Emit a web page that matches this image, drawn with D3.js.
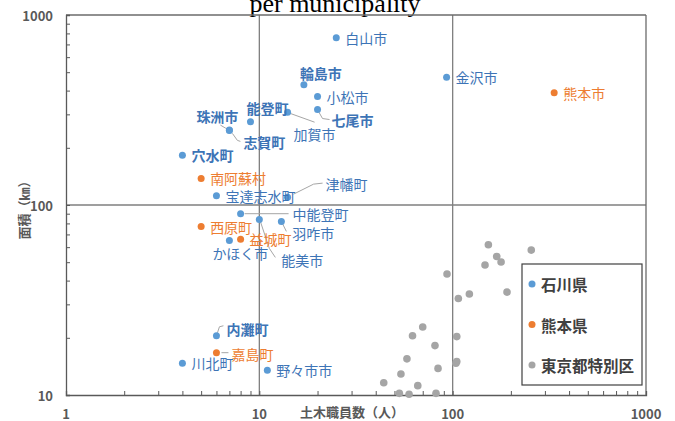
<!DOCTYPE html>
<html><head><meta charset="utf-8">
<script src="https://cdn.jsdelivr.net/npm/d3@7"></script>
<style>
html,body{margin:0;padding:0;background:#fff;}
svg{display:block;}
text{font-family:"Noto Sans CJK JP","Noto Sans",sans-serif;}
</style>
</head><body>
<svg id="c" width="675" height="421"></svg>
<script>
// ---- data ----
const ishikawaNames = ["白山市","輪島市","小松市","七尾市","加賀市","能登町","珠洲市","志賀町","穴水町","宝達志水町","津幡町","中能登町","能美市","羽咋市","かほく市","内灘町","川北町","野々市市","金沢市"];
const ishikawaStaff = [25, 17, 20, 20, 14, 9, 7, 7, 4, 6, 14, 8, 10, 13, 7, 6, 4, 11, 93];
const ishikawaArea  = [760, 430, 372, 318, 308, 274, 248, 247, 183, 112, 110, 90, 84, 82, 65, 20.5, 14.7, 13.5, 470];

const kumamotoNames = ["熊本市","南阿蘇村","西原町","益城町","嘉島町"];
const kumamotoStaff = [335, 5, 5, 8, 6];
const kumamotoArea  = [390, 138, 77, 66, 16.7];

const tokyoStaff = [153, 255, 169, 178, 147, 93.5, 191, 122, 107, 70, 62, 105, 81, 58, 105, 104, 84, 54, 44, 66, 53, 59.5, 82];
const tokyoArea  = [61.8, 57.9, 53.6, 50.1, 48.3, 43.3, 34.8, 34.0, 32.2, 22.8, 20.5, 20.3, 18.2, 15.5, 15.0, 14.7, 13.8, 12.9, 11.6, 11.2, 10.2, 10.1, 10.2];

const seriesNames = ["石川県","熊本県","東京都特別区"];
const xTicks = [1, 10, 100, 1000];
const yTicks = [10, 100, 1000];
const xTitle = "土木職員数（人）";
const yTitle = "面積（㎞）";
const titleText = "per municipality";

// ---- layout / style ----
const colors = {"石川県":"#5B9BD5","熊本県":"#ED7D31","東京都特別区":"#A5A5A5"};
const labelColors = {"石川県":"#3D74B6","熊本県":"#ED7D31"};
const labelLayout = {
  "白山市":{dx:9,dy:0},
  "輪島市":{dx:-4,dy:-12,bold:true},
  "小松市":{dx:9,dy:0},
  "七尾市":{dx:14,dy:10,bold:true,leader:[[1,2],[5,9],[12,10]]},
  "加賀市":{dx:6,dy:22,leader:[[2,1],[27,10]]},
  "能登町":{dx:-4,dy:-14,bold:true},
  "珠洲市":{dx:-33,dy:-14,bold:true,leader:[[-9,-5],[-4,-2],[-1,-1]]},
  "志賀町":{dx:14,dy:12,bold:true,leader:[[3,3],[8,10],[11,11]]},
  "穴水町":{dx:9,dy:0,bold:true},
  "宝達志水町":{dx:9,dy:0},
  "津幡町":{dx:38,dy:-13,leader:[[6,-3],[26,-13],[35,-14]]},
  "中能登町":{dx:52,dy:0,leader:[[4,0],[48,0]]},
  "能美市":{dx:22,dy:41,leader:[[1,2],[10,29],[16,38]]},
  "羽咋市":{dx:11,dy:12,leader:[[1,2],[5,10]]},
  "かほく市":{dx:-17,dy:12},
  "内灘町":{dx:10,dy:-7,bold:true,leader:[[1,-3],[3,-9],[7,-10]]},
  "川北町":{dx:9,dy:0},
  "野々市市":{dx:9,dy:0},
  "金沢市":{dx:9,dy:0},
  "熊本市":{dx:9,dy:0},
  "南阿蘇村":{dx:9,dy:0},
  "西原町":{dx:9,dy:0},
  "益城町":{dx:9,dy:0},
  "嘉島町":{dx:15,dy:1,leader:[[5,0],[12,0]]}
};

const L = 66, R = 646, T = 15, B = 395;
const svg = d3.select("#c");
const x = d3.scaleLog().domain([1,1000]).range([L,R]);
const y = d3.scaleLog().domain([10,1000]).range([B,T]);

// title (second line visible)
svg.append("text").attr("x",335).attr("y",12).attr("text-anchor","middle")
  .style("font-family","'Liberation Serif','Times New Roman',serif").style("font-size","26px").attr("fill","#000")
  .text(titleText);

// grid lines at major decades
const g = svg.append("g");
g.selectAll("line.vx").data(xTicks.slice(1,-1)).enter().append("line")
  .attr("x1",d=>x(d)).attr("x2",d=>x(d)).attr("y1",T).attr("y2",B)
  .attr("stroke","#7F7F7F").attr("stroke-width",1.3);
g.selectAll("line.hy").data(yTicks.slice(1,-1)).enter().append("line")
  .attr("x1",L).attr("x2",R).attr("y1",d=>y(d)).attr("y2",d=>y(d))
  .attr("stroke","#7F7F7F").attr("stroke-width",1.3);
// top & right border
g.append("line").attr("x1",L).attr("x2",R).attr("y1",T).attr("y2",T).attr("stroke","#6b6b6b").attr("stroke-width",1.3);
g.append("line").attr("x1",R).attr("x2",R).attr("y1",T).attr("y2",B).attr("stroke","#6b6b6b").attr("stroke-width",1.3);

// axes with inward minor ticks
const xAxis = d3.axisBottom(x).tickValues(x.ticks()).tickSize(-4).tickFormat("");
const yAxis = d3.axisLeft(y).tickValues(y.ticks()).tickSize(-4).tickFormat("");
const xa = svg.append("g").attr("transform",`translate(0,${B})`).call(xAxis);
const ya = svg.append("g").attr("transform",`translate(${L},0)`).call(yAxis);
[xa,ya].forEach(a=>{
  a.select(".domain").attr("stroke","#595959").attr("stroke-width",1.3);
  a.selectAll(".tick line").attr("stroke","#595959");
});

// tick labels
svg.selectAll("text.xt").data(xTicks).enter().append("text")
  .attr("x",d=>x(d)).attr("y",413).attr("text-anchor","middle").attr("dominant-baseline","central")
  .attr("fill","#595959").style("font-size","13px").style("font-weight","bold").text(d=>d);
svg.selectAll("text.yt").data(yTicks).enter().append("text")
  .attr("x",53).attr("y",d=>y(d)).attr("text-anchor","end").attr("dominant-baseline","central")
  .attr("fill","#595959").style("font-size","13px").style("font-weight","bold").text(d=>d);

// axis titles
svg.append("text").attr("x",352).attr("y",411).attr("text-anchor","middle").attr("dominant-baseline","central")
  .attr("fill","#595959").style("font-size","13px").style("font-weight","bold").text(xTitle);
svg.append("text").attr("transform","translate(23,207) rotate(-90)").attr("text-anchor","middle").attr("dominant-baseline","central")
  .attr("fill","#595959").style("font-size","13px").style("font-weight","bold").text(yTitle);

// build point sets
const tokyo = tokyoStaff.map((s,i)=>({s, a:tokyoArea[i], ser:"東京都特別区"}));
const ishikawa = ishikawaNames.map((n,i)=>({n, s:ishikawaStaff[i], a:ishikawaArea[i], ser:"石川県"}));
const kumamoto = kumamotoNames.map((n,i)=>({n, s:kumamotoStaff[i], a:kumamotoArea[i], ser:"熊本県"}));
const named = ishikawa.concat(kumamoto);

// leader lines
const lineGen = d3.line();
named.forEach(d=>{
  const lay = labelLayout[d.n];
  if (lay && lay.leader) {
    const px = x(d.s), py = y(d.a);
    svg.append("path").attr("d", lineGen(lay.leader.map(p=>[px+p[0],py+p[1]])))
      .attr("fill","none").attr("stroke","#A6A6A6").attr("stroke-width",1);
  }
});

// points
svg.append("g").selectAll("circle").data(tokyo.concat(ishikawa, kumamoto)).enter().append("circle")
  .attr("cx",d=>x(d.s)).attr("cy",d=>y(d.a)).attr("r",d=>d.ser==="東京都特別区"?3.8:3.5)
  .attr("fill",d=>colors[d.ser]);

// data labels
svg.append("g").selectAll("text").data(named).enter().append("text")
  .attr("x",d=>x(d.s)+labelLayout[d.n].dx).attr("y",d=>y(d.a)+labelLayout[d.n].dy)
  .attr("dominant-baseline","central").attr("fill",d=>labelColors[d.ser])
  .style("font-size","14px").style("font-weight",d=>labelLayout[d.n].bold?"bold":"normal")
  .text(d=>d.n);

// legend
const lg = svg.append("g");
lg.append("rect").attr("x",522).attr("y",264).attr("width",120).attr("height",121)
  .attr("fill","#fff").attr("stroke","#404040").attr("stroke-width",1.2);
seriesNames.forEach((n,i)=>{
  const yy = 284 + i*40.5;
  lg.append("circle").attr("cx",532).attr("cy",yy).attr("r",3.5).attr("fill",colors[n]);
  lg.append("text").attr("x",541).attr("y",yy).attr("dominant-baseline","central")
    .attr("fill","#404040").style("font-size","15.5px").style("font-weight","bold").text(n);
});
</script>
</body></html>
